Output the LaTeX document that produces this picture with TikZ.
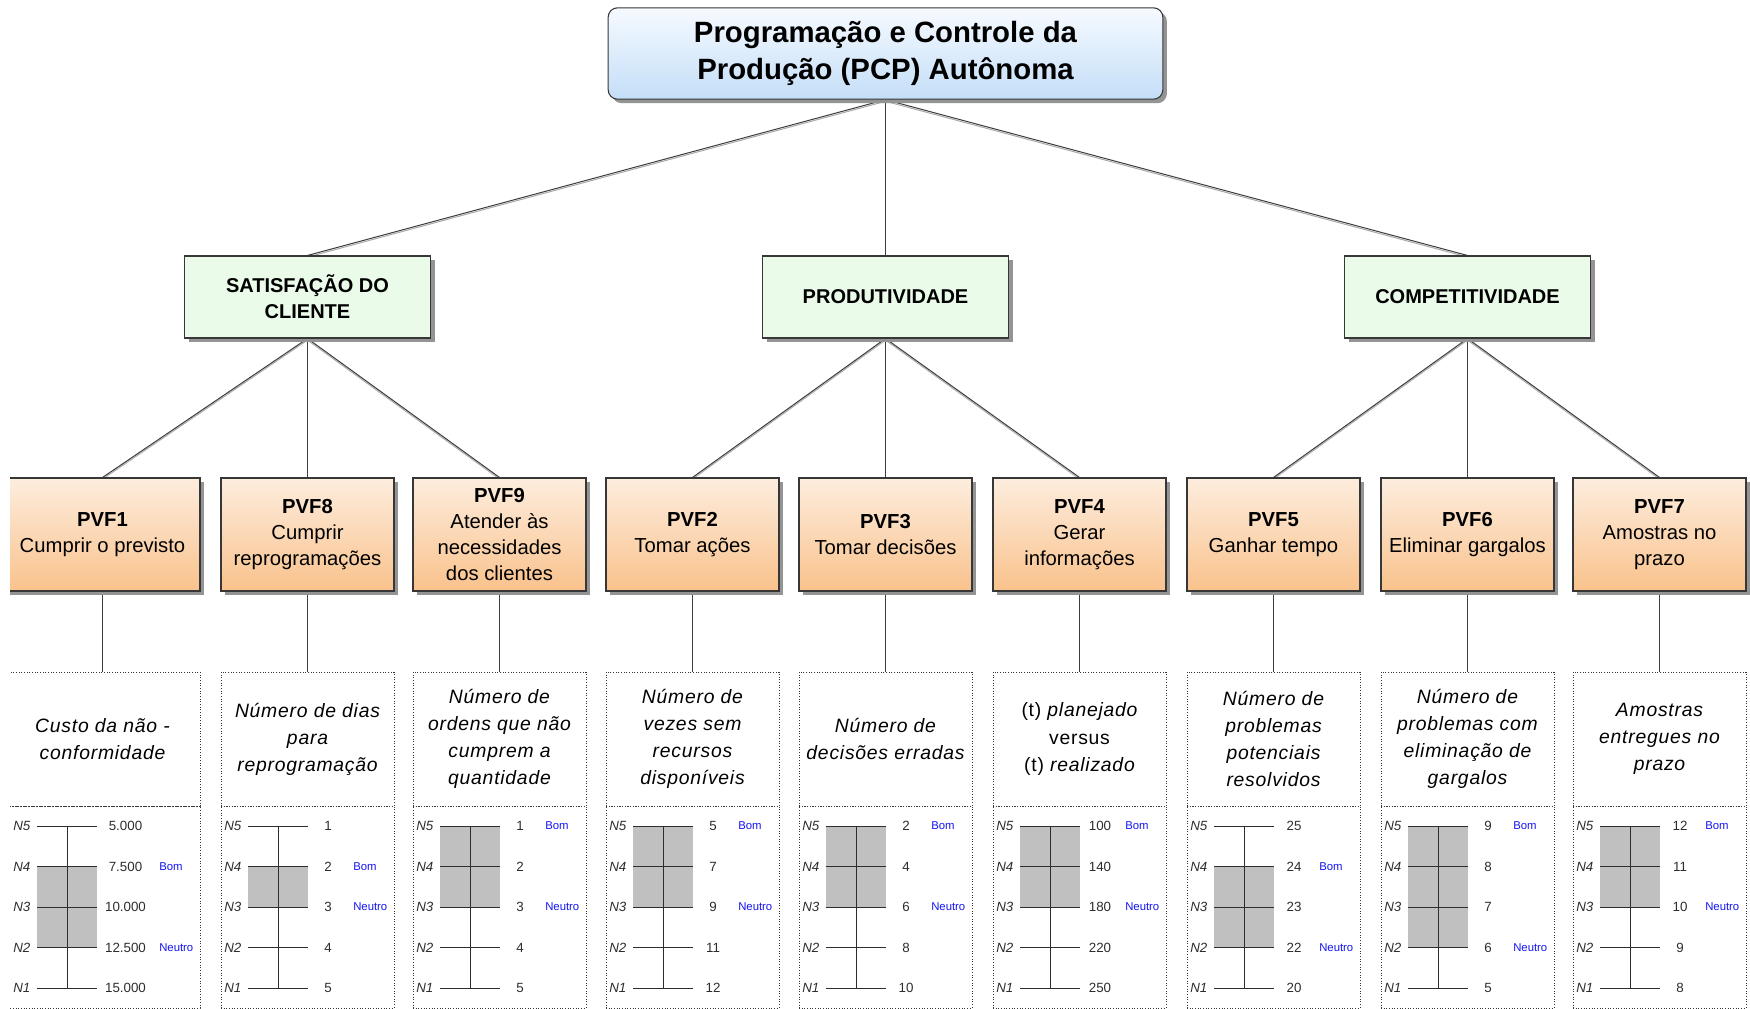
\documentclass[tikz,border=0pt]{standalone}
\usepackage{fontspec}
\setmainfont{Liberation Sans}
\newfontfamily\descfamily[LetterSpace=4]{Liberation Sans}
\usetikzlibrary{shadows}

\definecolor{boxline}{RGB}{55,55,55}
\definecolor{wiregray}{RGB}{60,60,60}
\definecolor{wireshade}{RGB}{170,170,170}
\definecolor{rootA}{RGB}{246,250,255}
\definecolor{rootB}{RGB}{196,222,248}
\definecolor{goalfill}{RGB}{235,251,233}
\definecolor{pvfA}{RGB}{253,237,222}
\definecolor{pvfB}{RGB}{249,194,140}
\definecolor{bandgray}{RGB}{192,192,192}
\definecolor{tagblue}{RGB}{20,20,245}
\definecolor{numgray}{RGB}{45,45,45}

\pgfdeclarelayer{back}
\pgfdeclarelayer{wires}
\pgfsetlayers{back,wires,main}

\tikzset{
  boxshadow/.style={drop shadow={shadow xshift=3pt,shadow yshift=-3pt,fill=black!42,opacity=1}},
  rootbox/.style={draw=boxline,line width=0.8pt,rounded corners=7pt,top color=rootA,bottom color=rootB,
    minimum width=416pt,minimum height=68.5pt,inner sep=0pt,align=center,
    font=\fontsize{22}{27.5}\selectfont\bfseries,boxshadow},
  goalbox/.style={draw=boxline,line width=0.8pt,fill=goalfill,minimum width=184.5pt,minimum height=61.5pt,
    inner sep=0pt,align=center,font=\fontsize{15}{19.3}\selectfont\bfseries,boxshadow},
  pvfbox/.style={draw=boxline,line width=0.8pt,top color=pvfA,bottom color=pvfB,minimum width=129.75pt,
    minimum height=84.75pt,inner sep=0pt,align=center,font=\fontsize{15.2}{19.3}\selectfont,boxshadow},
  descbox/.style={draw=boxline,line width=0.75pt,dash pattern=on 0.75pt off 1.25pt,minimum width=129.75pt,
    minimum height=100.5pt,inner sep=0pt,align=center,font=\descfamily\itshape\fontsize{14.5}{20.3}\selectfont},
  scalebox/.style={draw=boxline,line width=0.75pt,dash pattern=on 0.75pt off 1.25pt,minimum width=129.75pt,
    minimum height=151.5pt,inner sep=0pt},
  wide/.style={minimum width=146.25pt},
  wire/.style={draw=wiregray,line width=0.75pt},
  wireshadow/.style={draw=wireshade,line width=0.75pt},
  bandfill/.style={fill=bandgray},
  scaleline/.style={draw=numgray,line width=0.7pt},
  levtext/.style={anchor=west,inner sep=0pt,text=numgray,font=\fontsize{10}{12}\selectfont\itshape},
  valtext/.style={anchor=center,inner sep=0pt,text=numgray,font=\fontsize{10}{12}\selectfont},
  tagtext/.style={anchor=west,inner sep=0pt,text=tagblue,font=\fontsize{8.5}{10}\selectfont},
}

% connector with a faint shadow line beneath it
\newcommand{\tiewire}[2]{%
  \draw[wireshadow] ([yshift=-1.2pt]#1) -- ([yshift=-1.2pt]#2);
  \draw[wire] (#1) -- (#2);}

% five-level scale: #1 prefix, #2 left x, #3 width, #4 band top level, #5 band bottom level, #6 values N5..N1
\newcommand{\levelscale}[6]{%
  \pgfmathsetmacro{\scTop}{826+(5-#4)*40.5}%
  \pgfmathsetmacro{\scBot}{826+(5-#5)*40.5}%
  \pgfmathsetmacro{\scVal}{#2+107+(#3-173)/2}%
  \pgfmathsetmacro{\scTag}{#2+132+(#3-173)}%
  \fill[bandfill] (#2+27,\scTop) rectangle (#2+87,\scBot);
  \draw[scaleline] (#2+57,826) -- (#2+57,988);
  \foreach \val [count=\k] in {#6} {%
    \pgfmathsetmacro{\yy}{826+(\k-1)*40.5}%
    \pgfmathtruncatemacro{\lev}{6-\k}%
    \draw[scaleline] (#2+27,\yy) -- (#2+87,\yy);
    \node[levtext] (#1-n\lev) at (#2+3,\yy) {N\lev};
    \node[valtext] (#1-v\lev) at (\scVal,\yy) {\val};
  }
  \node[tagtext] (#1-bom) at (\scTag,\scTop) {Bom};
  \node[tagtext] (#1-neutro) at (\scTag,\scBot) {Neutro};
}

\begin{document}
\begin{tikzpicture}[x=0.75pt,y=-0.75pt]
\useasboundingbox (0,0) rectangle (1750,1009);
\begin{pgfonlayer}{back}
  \fill[white] (0,0) rectangle (1750,1009);
\end{pgfonlayer}

% root
\node[rootbox] (root) at (885.5,53.5) {\rule{0pt}{4pt}Programação e Controle da\\Produção (PCP) Autônoma};

% goals
\node[goalbox] (sat)  at (307.5,297)  {SATISFAÇÃO DO\\CLIENTE};
\node[goalbox] (prod) at (885.5,297)  {PRODUTIVIDADE};
\node[goalbox] (comp) at (1467.5,297) {COMPETITIVIDADE};

% fundamental points of view
\node[pvfbox,wide] (pvf1) at (102.5,534.5)  {\textbf{PVF1}\\Cumprir o previsto};
\node[pvfbox] (pvf8) at (307.5,534.5)  {\textbf{PVF8}\\Cumprir\\reprogramações};
\node[pvfbox] (pvf9) at (499.5,534.5)  {\textbf{PVF9}\\Atender às\\necessidades\\dos clientes};
\node[pvfbox] (pvf2) at (692.5,534.5)  {\textbf{PVF2}\\Tomar ações};
\node[pvfbox] (pvf3) at (885.5,534.5)  {\textbf{PVF3}\\Tomar decisões};
\node[pvfbox] (pvf4) at (1079.5,534.5) {\textbf{PVF4}\\Gerar\\informações};
\node[pvfbox] (pvf5) at (1273.5,534.5) {\textbf{PVF5}\\Ganhar tempo};
\node[pvfbox] (pvf6) at (1467.5,534.5) {\textbf{PVF6}\\Eliminar gargalos};
\node[pvfbox] (pvf7) at (1659.5,534.5) {\textbf{PVF7}\\Amostras no\\prazo};

% descriptors
\node[descbox,wide] (d1) at (102.5,739)  {Custo da não -\\conformidade};
\node[descbox] (d8) at (307.5,739)  {Número de dias\\para\\reprogramação};
\node[descbox] (d9) at (499.5,739)  {Número de\\ordens que não\\cumprem a\\quantidade};
\node[descbox] (d2) at (692.5,739)  {Número de\\vezes sem\\recursos\\disponíveis};
\node[descbox] (d3) at (885.5,739)  {Número de\\decisões erradas};
\node[descbox] (d4) at (1079.5,739) {{\upshape(t)} planejado\\{\upshape versus}\\{\upshape(t)} realizado};
\node[descbox] (d5) at (1273.5,739) {Número de\\problemas\\potenciais\\resolvidos};
\node[descbox] (d6) at (1467.5,739) {Número de\\problemas com\\eliminação de\\gargalos};
\node[descbox] (d7) at (1659.5,739) {Amostras\\entregues no\\prazo};

% scale frames
\node[scalebox,wide] (s1) at (102.5,907) {};
\node[scalebox] (s8) at (307.5,907)  {};
\node[scalebox] (s9) at (499.5,907)  {};
\node[scalebox] (s2) at (692.5,907)  {};
\node[scalebox] (s3) at (885.5,907)  {};
\node[scalebox] (s4) at (1079.5,907) {};
\node[scalebox] (s5) at (1273.5,907) {};
\node[scalebox] (s6) at (1467.5,907) {};
\node[scalebox] (s7) at (1659.5,907) {};

% scales
\levelscale{k1}{10}{190}{4}{2}{5.000,7.500,10.000,12.500,15.000}
\levelscale{k8}{221}{173}{4}{3}{1,2,3,4,5}
\levelscale{k9}{413}{173}{5}{3}{1,2,3,4,5}
\levelscale{k2}{606}{173}{5}{3}{5,7,9,11,12}
\levelscale{k3}{799}{173}{5}{3}{2,4,6,8,10}
\levelscale{k4}{993}{173}{5}{3}{100,140,180,220,250}
\levelscale{k5}{1187}{173}{4}{2}{25,24,23,22,20}
\levelscale{k6}{1381}{173}{5}{2}{9,8,7,6,5}
\levelscale{k7}{1573}{173}{5}{3}{12,11,10,9,8}

% connectors
\begin{pgfonlayer}{wires}
  \tiewire{root.south}{sat.north}
  \tiewire{root.south}{prod.north}
  \tiewire{root.south}{comp.north}
  \tiewire{sat.south}{pvf1.north}
  \tiewire{sat.south}{pvf8.north}
  \tiewire{sat.south}{pvf9.north}
  \tiewire{prod.south}{pvf2.north}
  \tiewire{prod.south}{pvf3.north}
  \tiewire{prod.south}{pvf4.north}
  \tiewire{comp.south}{pvf5.north}
  \tiewire{comp.south}{pvf6.north}
  \tiewire{comp.south}{pvf7.north}
  \draw[wire] (pvf1.south) -- (d1.north);
  \draw[wire] (pvf8.south) -- (d8.north);
  \draw[wire] (pvf9.south) -- (d9.north);
  \draw[wire] (pvf2.south) -- (d2.north);
  \draw[wire] (pvf3.south) -- (d3.north);
  \draw[wire] (pvf4.south) -- (d4.north);
  \draw[wire] (pvf5.south) -- (d5.north);
  \draw[wire] (pvf6.south) -- (d6.north);
  \draw[wire] (pvf7.south) -- (d7.north);
\end{pgfonlayer}

% page edge trims the leftmost column
\fill[white] (0,0) rectangle (10,1009);
\end{tikzpicture}
\end{document}
